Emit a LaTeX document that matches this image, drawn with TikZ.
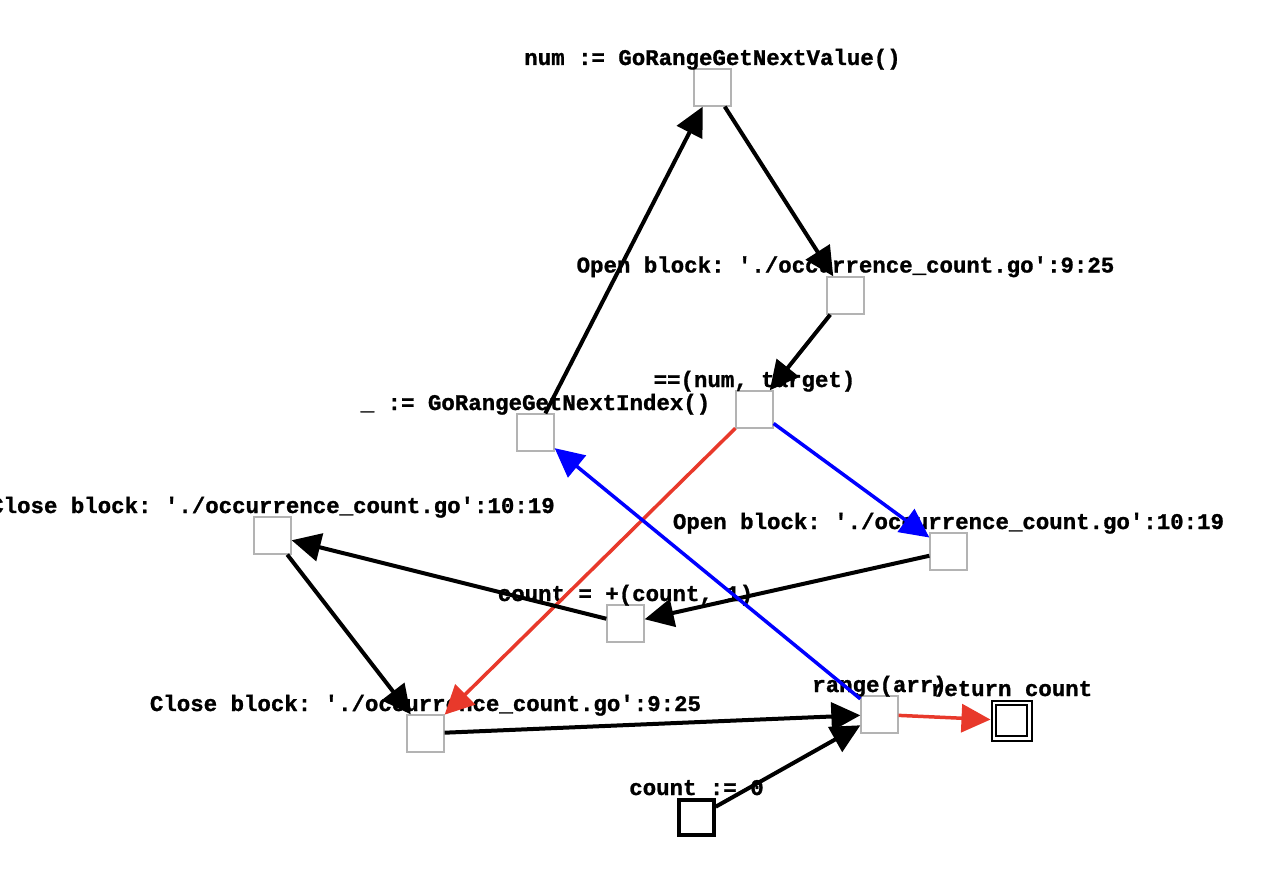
\documentclass[tikz,border=0pt]{standalone}
\usepackage{fontspec}
\setmonofont[BoldFeatures={FakeBold=1.2}]{Liberation Mono}
\usetikzlibrary{arrows.meta,calc}
\definecolor{edgered}{HTML}{E8392B}
\definecolor{edgeblue}{HTML}{0000FF}
\definecolor{boxgray}{HTML}{B3B3B3}
\begin{document}
\begin{tikzpicture}[x=1pt,y=-1pt,
  stmt/.style={draw=boxgray, line width=1.3pt, fill=white, minimum size=37pt, inner sep=0pt, rectangle},
  entry/.style={draw=black, line width=3.5pt, fill=white, minimum size=35pt, inner sep=0pt, rectangle},
  exitouter/.style={draw=black, line width=2pt, fill=white, minimum size=40pt, inner sep=0pt, rectangle},
  exitinner/.style={draw=black, line width=2.5pt, minimum size=31pt, inner sep=0pt, rectangle},
  lbl/.style={anchor=base, inner sep=0pt, font=\ttfamily\bfseries\fontsize{22.4}{24}\selectfont},
  flow/.style={line width=4pt, -{Triangle[length=29pt,width=28pt]}},
  flowblack/.style={flow, draw=black, fill=black},
  flowred/.style={flow, line width=3.5pt, draw=edgered, fill=edgered},
  flowblue/.style={flow, line width=3.5pt, draw=edgeblue, fill=edgeblue}]
\useasboundingbox (0,0) rectangle (1280,888);

% statements of the control-flow graph
\node[stmt] (nextval) at (712.5,87.5) {};
\node[stmt] (open925) at (845.5,295.5) {};
\node[stmt] (eq) at (754.5,409.5) {};
\node[stmt] (nextidx) at (535.5,432.5) {};
\node[stmt] (close1019) at (272.5,535.5) {};
\node[stmt] (open1019) at (948.5,551.5) {};
\node[stmt] (countplus) at (625.5,623.5) {};
\node[stmt] (close925) at (425.5,733.5) {};
\node[stmt] (range) at (879.5,714.5) {};
\node[exitouter] (ret) at (1011.5,720.5) {};
\node[exitinner] (retin) at (1011.5,720.5) {};
\node[entry] (count0) at (696.5,817.5) {};

% statement texts, set just above each box
\node[lbl] (t-nextval) at ($(nextval)+(0,-22.5)$) {num := GoRangeGetNextValue()};
\node[lbl] (t-open925) at ($(open925)+(0,-23)$) {Open block: './occurrence\_count.go':9:25};
\node[lbl] (t-eq) at ($(eq)+(0,-22.5)$) {==(num, target)};
\node[lbl] (t-nextidx) at ($(nextidx)+(0,-22.5)$) {\_ := GoRangeGetNextIndex()};
\node[lbl] (t-close1019) at ($(close1019)+(0,-22.5)$) {Close block: './occurrence\_count.go':10:19};
\node[lbl] (t-open1019) at ($(open1019)+(0,-22.5)$) {Open block: './occurrence\_count.go':10:19};
\node[lbl] (t-countplus) at ($(countplus)+(0,-22.5)$) {count = +(count, 1)};
\node[lbl] (t-close925) at ($(close925)+(0,-22.5)$) {Close block: './occurrence\_count.go':9:25};
\node[lbl] (t-range) at ($(range)+(0,-22.5)$) {range(arr)};
\node[lbl] (t-ret) at ($(ret)+(0,-24.5)$) {return count};
\node[lbl] (t-count0) at ($(count0)+(0,-22.5)$) {count := 0};

% control flow
\draw[flowblack] (nextidx) -- (nextval);
\draw[flowblack] (nextval) -- (open925);
\draw[flowblack] (open925) -- (eq);
\draw[flowblue] (eq) -- (open1019);
\draw[flowred] (eq) -- (close925);
\draw[flowblack] (open1019) -- (countplus);
\draw[flowblack] (countplus) -- (close1019);
\draw[flowblack] (close1019) -- (close925);
\draw[flowblack] (close925) -- (range);
\draw[flowblack] (count0) -- (range);
\draw[flowblue] (range) -- (nextidx);
\draw[flowred] (range) -- (ret);
\end{tikzpicture}
\end{document}
